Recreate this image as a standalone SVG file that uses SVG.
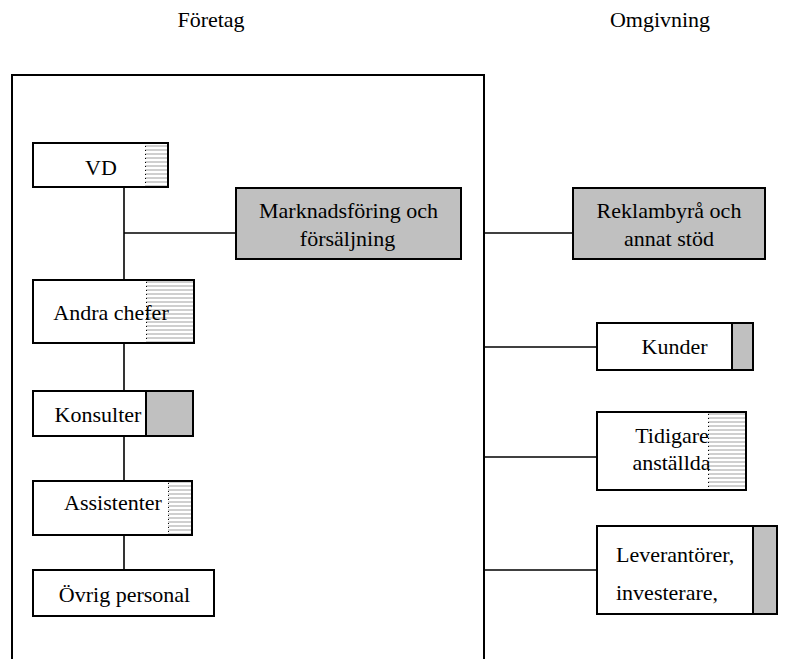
<svg xmlns="http://www.w3.org/2000/svg" width="787" height="659" viewBox="0 0 787 659">
  <style>
    .box { fill: #fff; stroke: #000; stroke-width: 2; }
    .grey { fill: #c0c0c0; stroke: #000; stroke-width: 2; }
    .hatch { fill: url(#lines); stroke: none; }
    .tick { stroke: #000; stroke-width: 1; stroke-dasharray: 1 3; fill: none; }
    .edge { stroke: #000; stroke-width: 1.6; fill: none; }
    .frame { stroke: #000; stroke-width: 2; fill: none; }
    .outline { fill: none; stroke: #000; stroke-width: 2; }
    text { font-family: "Liberation Serif", "DejaVu Serif", "Times New Roman", serif; font-size: 22px; fill: #000; }
    .c { text-anchor: middle; }
  </style>
  <defs>
    <pattern id="lines" patternUnits="userSpaceOnUse" width="10" height="4">
      <rect x="0" y="0" width="10" height="4" fill="#fff"/>
      <line x1="0" y1="2" x2="10" y2="2" stroke="#a0a0a0" stroke-width="1"/>
    </pattern>
  </defs>

  <rect width="787" height="659" fill="#fff"/>

  <!-- headings -->
  <text class="c" x="211" y="27">Företag</text>
  <text class="c" x="660" y="27">Omgivning</text>

  <!-- company frame, open at the bottom -->
  <path class="frame" d="M12,659 V75 H484 V659"/>

  <!-- connectors -->
  <g id="connectors">
    <line class="edge" x1="124" y1="187" x2="124" y2="569"/>
    <line class="edge" x1="124" y1="233" x2="236" y2="233"/>
    <line class="edge" x1="484" y1="233" x2="573" y2="233"/>
    <line class="edge" x1="484" y1="347" x2="597" y2="347"/>
    <line class="edge" x1="484" y1="457" x2="597" y2="457"/>
    <line class="edge" x1="484" y1="570" x2="597" y2="570"/>
  </g>

  <g id="vd">
    <rect class="box" x="33" y="143" width="135" height="44"/>
    <rect class="hatch" x="145" y="144" width="22" height="42"/>
    <line class="tick" x1="145.5" y1="146" x2="145.5" y2="186"/>
    <rect class="outline" x="33" y="143" width="135" height="44"/>
    <text class="c" x="101" y="175">VD</text>
  </g>

  <g id="andra-chefer">
    <rect class="box" x="33" y="280" width="161" height="63"/>
    <rect class="hatch" x="146" y="281" width="47" height="61"/>
    <line class="tick" x1="146.5" y1="282" x2="146.5" y2="342"/>
    <rect class="outline" x="33" y="280" width="161" height="63"/>
    <text class="c" x="111" y="320">Andra chefer</text>
  </g>

  <g id="konsulter">
    <rect class="box" x="33" y="391" width="160" height="45"/>
    <rect class="grey" x="146" y="391" width="47" height="45"/>
    <text class="c" x="98" y="422">Konsulter</text>
  </g>

  <g id="assistenter">
    <rect class="box" x="33" y="481" width="159" height="54"/>
    <rect class="hatch" x="168" y="482" width="23" height="52"/>
    <line class="tick" x1="168.5" y1="483" x2="168.5" y2="534"/>
    <rect class="outline" x="33" y="481" width="159" height="54"/>
    <text class="c" x="113" y="510">Assistenter</text>
  </g>

  <g id="ovrig-personal">
    <rect class="box" x="33" y="570" width="181" height="46"/>
    <text class="c" x="124.5" y="602">Övrig personal</text>
  </g>

  <g id="marknadsforing">
    <rect class="grey" x="236" y="188" width="225" height="71"/>
    <text class="c" x="348.5" y="218">Marknadsföring och</text>
    <text class="c" x="347.5" y="246">försäljning</text>
  </g>

  <g id="reklambyra">
    <rect class="grey" x="573" y="188" width="192" height="71"/>
    <text class="c" x="669" y="218">Reklambyrå och</text>
    <text class="c" x="669" y="246">annat stöd</text>
  </g>

  <g id="kunder">
    <rect class="box" x="597" y="323" width="156" height="47"/>
    <rect class="grey" x="732" y="323" width="21" height="47"/>
    <text class="c" x="674.5" y="354">Kunder</text>
  </g>

  <g id="tidigare-anstallda">
    <rect class="box" x="597" y="412" width="149" height="78"/>
    <rect class="hatch" x="708" y="413" width="37" height="76"/>
    <line class="tick" x1="708.5" y1="414" x2="708.5" y2="489"/>
    <rect class="outline" x="597" y="412" width="149" height="78"/>
    <text class="c" x="672" y="443">Tidigare</text>
    <text class="c" x="671.5" y="470">anställda</text>
  </g>

  <g id="leverantorer">
    <rect class="box" x="597" y="526" width="180" height="88"/>
    <rect class="grey" x="753" y="526" width="24" height="88"/>
    <text x="616" y="562">Leverantörer,</text>
    <text x="616" y="600">investerare,</text>
  </g>
</svg>
